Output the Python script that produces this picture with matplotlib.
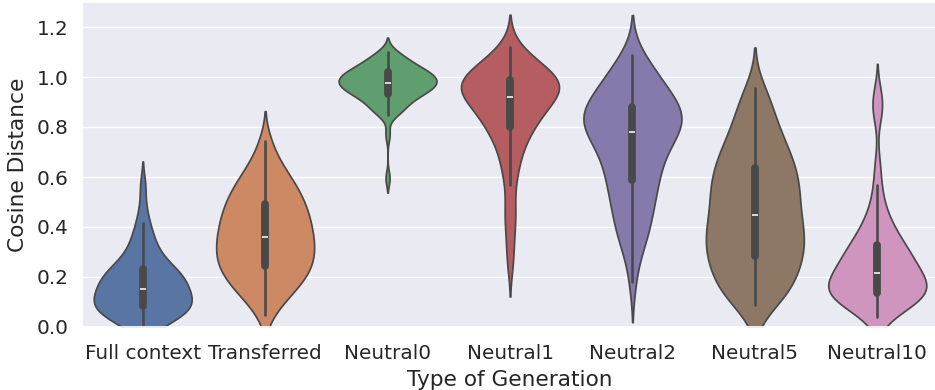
import matplotlib
matplotlib.use("Agg")
import matplotlib.pyplot as plt
import seaborn as sns
import pandas as pd
import colorsys

categories = ["Full context", "Transferred", "Neutral0", "Neutral1",
              "Neutral2", "Neutral5", "Neutral10"]

full_context = [0.004, 0.013, 0.021, 0.029, 0.036, 0.043, 0.049, 0.055, 0.060, 0.065, 0.070, 0.075, 0.079,
                0.084, 0.089, 0.094, 0.099, 0.104, 0.109, 0.114, 0.119, 0.125, 0.131, 0.137, 0.143, 0.150,
                0.156, 0.162, 0.168, 0.174, 0.180, 0.186, 0.192, 0.198, 0.204, 0.210, 0.216, 0.222,
                0.229, 0.237, 0.246, 0.256, 0.268, 0.282, 0.298, 0.316, 0.336, 0.358, 0.385, 0.415, 0.47, 0.565]

transferred = [0.050, 0.094, 0.118, 0.135, 0.152, 0.166, 0.178, 0.190, 0.201, 0.213,
               0.223, 0.233, 0.242, 0.253, 0.262, 0.272, 0.281, 0.291, 0.299, 0.309,
               0.318, 0.329, 0.338, 0.348, 0.357, 0.367, 0.376, 0.387, 0.397, 0.407,
               0.417, 0.427, 0.438, 0.448, 0.460, 0.470, 0.482, 0.493, 0.504, 0.517,
               0.530, 0.542, 0.556, 0.570, 0.588, 0.606, 0.623, 0.652, 0.682, 0.745]

neutral0 = [0.595, 0.77,
            0.848, 0.858, 0.865, 0.870, 0.878, 0.890, 0.896, 0.903, 0.909, 0.915, 0.921,
            0.925, 0.929, 0.932, 0.936, 0.939, 0.943, 0.947, 0.950, 0.954, 0.957,
            0.960, 0.962, 0.965, 0.968, 0.970, 0.973, 0.976, 0.979, 0.981, 0.984,
            0.986, 0.989, 0.991, 0.994, 0.997, 1.000, 1.003, 1.006, 1.009, 1.012,
            1.016, 1.019, 1.022, 1.025, 1.028, 1.031, 1.034, 1.039, 1.045, 1.051,
            1.056, 1.062, 1.068, 1.074, 1.086, 1.093, 1.100]

neutral1 = [0.25, 0.33, 0.40, 0.45, 0.49,
            0.568, 0.610, 0.645, 0.675, 0.700, 0.722, 0.742, 0.760, 0.777, 0.793,
            0.800, 0.810, 0.820, 0.830, 0.839, 0.848, 0.857, 0.866, 0.875, 0.884, 0.892, 0.900, 0.907, 0.914, 0.919,
            0.923, 0.928, 0.933, 0.938, 0.943, 0.948, 0.953, 0.958, 0.963, 0.968, 0.972, 0.976, 0.980, 0.984, 0.987,
            0.991, 0.996, 1.001, 1.007, 1.013, 1.019, 1.026, 1.033, 1.041, 1.050, 1.060, 1.071, 1.084, 1.100, 1.121]

neutral2 = [0.180, 0.285, 0.324, 0.351, 0.378, 0.403, 0.424, 0.445, 0.466, 0.486,
            0.505, 0.524, 0.542, 0.561, 0.576, 0.590, 0.606, 0.621, 0.635, 0.650,
            0.667, 0.681, 0.694, 0.707, 0.719, 0.731, 0.743, 0.754, 0.765, 0.775,
            0.783, 0.790, 0.797, 0.804, 0.811, 0.818, 0.825, 0.832, 0.839, 0.846,
            0.853, 0.861, 0.868, 0.875, 0.879, 0.887, 0.896, 0.907, 0.918, 0.929,
            0.940, 0.952, 0.965, 0.978, 0.992, 1.007, 1.024, 1.043, 1.064, 1.087]

neutral5 = [0.088, 0.100, 0.112, 0.126, 0.140, 0.157, 0.173, 0.188, 0.199, 0.212,
            0.225, 0.238, 0.251, 0.264, 0.275, 0.286, 0.297, 0.308, 0.319, 0.330,
            0.341, 0.351, 0.362, 0.373, 0.384, 0.395, 0.407, 0.418, 0.430, 0.442,
            0.453, 0.468, 0.485, 0.497, 0.509, 0.521, 0.533, 0.545, 0.557, 0.569,
            0.582, 0.594, 0.607, 0.620, 0.632, 0.645, 0.660, 0.675, 0.690, 0.704,
            0.719, 0.739, 0.759, 0.779, 0.799, 0.829, 0.859, 0.890, 0.920, 0.955]

neutral10 = [0.041, 0.056, 0.068, 0.078, 0.087, 0.095, 0.102, 0.108, 0.113, 0.118, 0.122, 0.126, 0.129, 0.132, 0.135,
             0.139, 0.144, 0.149, 0.154, 0.159, 0.164, 0.169, 0.174, 0.179, 0.184, 0.189, 0.195, 0.201, 0.207, 0.213,
             0.221, 0.228, 0.235, 0.242, 0.249, 0.256, 0.263, 0.270, 0.277, 0.284, 0.292, 0.300, 0.308, 0.317, 0.326,
             0.336, 0.347, 0.359, 0.372, 0.386, 0.402, 0.420, 0.442, 0.470, 0.510, 0.568, 0.65, 0.85, 0.89, 0.93]

series = [full_context, transferred, neutral0, neutral1, neutral2, neutral5, neutral10]

# kernel bandwidth multipliers (styling of the density estimate)
bw_adjust = [0.88, 0.78, 0.79, 0.76, 0.85, 0.80, 0.72]

sns.set_theme(style="darkgrid")
plt.rcParams['font.family'] = ['DejaVu Sans']

fig = plt.figure(figsize=(9.35, 3.9), dpi=100)
ax = fig.add_axes([81.5 / 935, 1 - 327 / 390, (938.5 - 81.5) / 935, (327 - 2) / 390])

palette = sns.color_palette("deep", len(categories))
desat = [sns.desaturate(c, 0.75) for c in palette]
lum = min(colorsys.rgb_to_hls(*c)[1] for c in desat) * 0.6
line_gray = (lum, lum, lum)

for i, cat in enumerate(categories):
    df = pd.DataFrame({"Type of Generation": [cat] * len(series[i]),
                       "Cosine Distance": series[i]})
    sns.violinplot(data=df, x="Type of Generation", y="Cosine Distance",
                   order=categories, color=palette[i], bw_adjust=bw_adjust[i],
                   cut=2, density_norm="width", inner="box",
                   linecolor=line_gray, ax=ax)

ax.set_xlim(-0.5, len(categories) - 0.5)
ax.set_ylim(0, 1.3)
ax.set_yticks([0.0, 0.2, 0.4, 0.6, 0.8, 1.0, 1.2])
ax.tick_params(axis="x", labelsize=14.4, pad=6)
ax.tick_params(axis="y", labelsize=14.4)
ax.set_xlabel("Type of Generation", fontsize=15.6, labelpad=5)
ax.set_ylabel("Cosine Distance", fontsize=15.6, labelpad=6)
ax.xaxis.grid(False)

fig.savefig("out.png", dpi=100)
